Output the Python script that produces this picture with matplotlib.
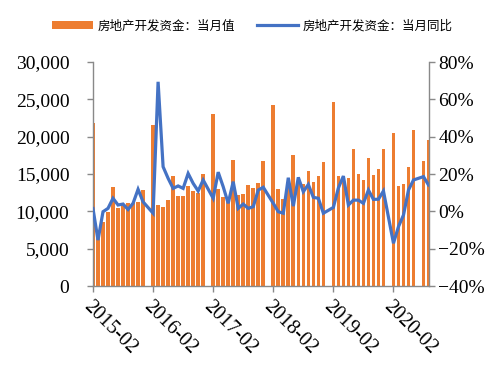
import numpy as np
import pandas as pd
import matplotlib
matplotlib.use("Agg")
import matplotlib.pyplot as plt
import matplotlib.transforms as mtransforms
from matplotlib.patches import Patch
from matplotlib.lines import Line2D

nan = np.nan

# monthly categories, 2015-02 .. 2020-09 (January is reported jointly with February)
MONTHS = pd.period_range("2015-02", "2020-09", freq="M").strftime("%Y-%m").tolist()

# 房地产开发资金：当月值 (亿元)
FUNDS = [
    21800, 6400, 8600, 9950, 13200, 10500, 10800, 11100, 11100, 11300, 12900,
    nan, 21600, 10850, 10600, 11500, 14700, 12000, 12000, 13400, 12700, 12500, 15000,
    nan, 23100, 12950, 11900, 11600, 16900, 12200, 12300, 13500, 13100, 13750, 16700,
    nan, 24200, 12950, 11600, 13900, 17500, 13600, 13600, 15400, 13900, 14700, 16600,
    nan, 24700, 14700, 14000, 14400, 18400, 15000, 14200, 17100, 14900, 15700, 18350,
    nan, 20450, 13400, 13700, 15900, 20900, nan, 16700, 19550,
]

# 房地产开发资金：当月同比 (%)
YOY = [
    1.5, -15.4, -0.2, 1.6, 7.0, 3.4, 3.9, 1.0, 4.3, 11.8, 5.1,
    nan, -1.0, 69.4, 23.9, 17.7, 12.3, 13.6, 12.3, 20.3, 15.0, 10.9, 16.8,
    nan, 7.0, 21.0, 13.2, 4.3, 15.9, 1.6, 3.9, 1.6, 2.5, 11.4, 12.9,
    nan, 4.3, -0.2, -1.0, 18.0, 2.8, 18.2, 10.5, 14.4, 7.5, 7.0, -1.0,
    nan, 2.1, 12.5, 18.9, 3.4, 6.0, 6.0, 4.3, 11.4, 6.4, 6.5, 10.9,
    nan, -17.1, -8.2, -2.0, 11.4, 16.8, 17.7, 18.6, 14.1,
]

TICK_MONTHS = ["2015-02", "2016-02", "2017-02", "2018-02", "2019-02", "2020-02"]
LEFT_TICKS = [0, 5000, 10000, 15000, 20000, 25000, 30000]
RIGHT_TICKS = [-40, -20, 0, 20, 40, 60, 80]

BAR_LABEL = "房地产开发资金：当月值"
LINE_LABEL = "房地产开发资金：当月同比"

ORANGE = "#ED7D31"
BLUE = "#4472C4"
GREY = "#898989"

plt.rcParams["font.family"] = ["Liberation Serif", "DejaVu Serif"]

x = np.arange(len(MONTHS))
funds = np.array(FUNDS, dtype=float)
yoy = np.array(YOY, dtype=float)

fig = plt.figure(figsize=(4.97, 3.70), dpi=100)
ax = fig.add_axes([0.1871, 0.227, 0.6751, 0.6054])
ax2 = ax.twinx()

ax.bar(x, funds, width=0.72, color=ORANGE, linewidth=0)
ok = ~np.isnan(yoy)
ax2.plot(x[ok], yoy[ok], color=BLUE, lw=2.3, solid_joinstyle="miter")

ax.set_xlim(0, len(MONTHS) - 1)
ax.set_ylim(0, 30000)
ax2.set_ylim(-40, 80)

ax.set_yticks(LEFT_TICKS)
ax.set_yticklabels([f"{v:,}" for v in LEFT_TICKS])
ax2.set_yticks(RIGHT_TICKS)
ax2.set_yticklabels([f"{v}%".replace("-", "\u2212") for v in RIGHT_TICKS])

ax.set_xticks([MONTHS.index(m) for m in TICK_MONTHS])
ax.set_xticklabels(TICK_MONTHS, rotation=-45, ha="left", va="top",
                   rotation_mode="anchor", fontsize=14.5)
shift = mtransforms.ScaledTranslation(4 / 100, 0, fig.dpi_scale_trans)
for lbl in ax.get_xticklabels():
    lbl.set_transform(lbl.get_transform() + shift)

for s in ["top", "right"]:
    ax.spines[s].set_visible(False)
for s in ["top", "left", "bottom"]:
    ax2.spines[s].set_visible(False)
for a, s in [(ax, "left"), (ax, "bottom"), (ax2, "right")]:
    a.spines[s].set_color(GREY)
    a.spines[s].set_linewidth(1.0)

ax.tick_params(axis="y", direction="out", length=4, width=1, color=GREY,
               labelsize=14, pad=13)
ax.tick_params(axis="x", direction="out", length=4, width=1, color=GREY, pad=4)
ax2.tick_params(axis="y", direction="out", length=4, width=1, color=GREY,
                labelsize=14, pad=3)

handles = [Patch(facecolor=ORANGE, edgecolor="none", label=BAR_LABEL),
           Line2D([], [], color=BLUE, lw=2.3, label=LINE_LABEL)]
fig.legend(handles=handles, loc="center", bbox_to_anchor=(0.508, 0.93), ncol=2,
           frameon=False, handlelength=3.3, handletextpad=0.4, columnspacing=1.7,
           prop={"family": ["Noto Sans CJK SC", "DejaVu Sans"], "size": 9})

fig.savefig("out.png", dpi=100)
